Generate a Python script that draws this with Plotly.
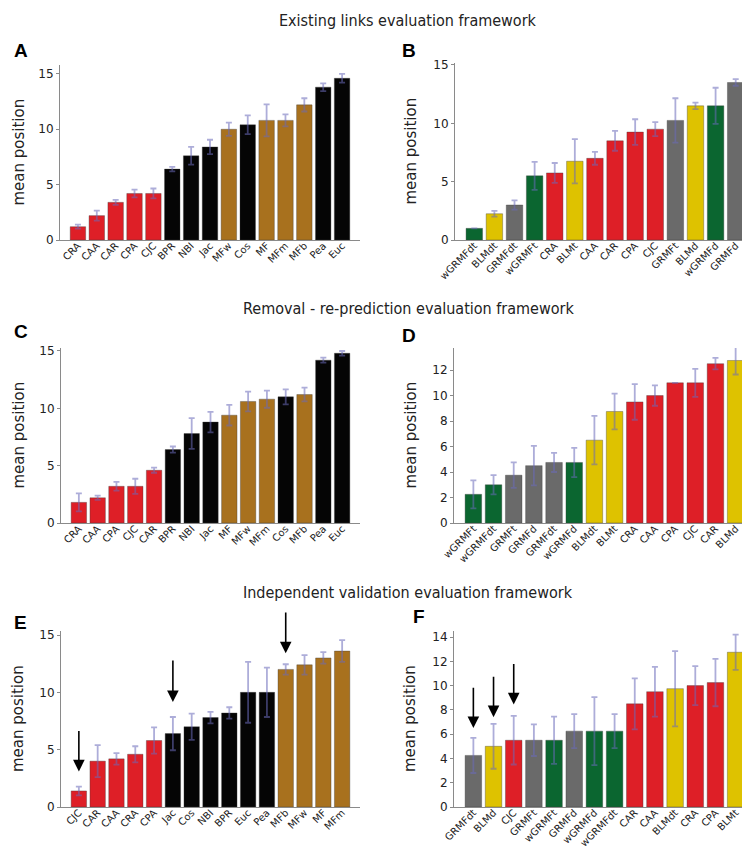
import plotly.graph_objects as go

# ---------------- data ----------------
a_names = ["CRA", "CAA", "CAR", "CPA", "CJC", "BPR", "NBI", "Jac", "MFw", "Cos", "MF", "MFm", "MFb", "Pea", "Euc"]
a_vals = [1.2, 2.2, 3.4, 4.2, 4.2, 6.4, 7.6, 8.4, 10.0, 10.4, 10.8, 10.8, 12.2, 13.8, 14.6]
a_err = [0.18, 0.45, 0.22, 0.35, 0.45, 0.2, 0.8, 0.65, 0.6, 0.85, 1.45, 0.55, 0.6, 0.35, 0.4]
a_grp = ["r", "r", "r", "r", "r", "k", "k", "k", "b", "k", "b", "b", "b", "k", "k"]

b_names = ["wGRMFdt", "BLMdt", "GRMFdt", "wGRMFt", "CRA", "BLMt", "CAA", "CAR", "CPA", "CJC", "GRMFt", "BLMd", "wGRMFd", "GRMFd"]
b_vals = [1.0, 2.25, 3.0, 5.5, 5.75, 6.75, 7.0, 8.5, 9.25, 9.5, 10.25, 11.5, 11.5, 13.5]
b_err = [0.0, 0.25, 0.4, 1.2, 0.85, 1.9, 0.55, 0.85, 1.1, 0.6, 1.9, 0.28, 1.55, 0.28]
b_grp = ["g", "y", "s", "g", "r", "y", "r", "r", "r", "r", "s", "y", "g", "s"]

c_names = ["CRA", "CAA", "CPA", "CJC", "CAR", "BPR", "NBI", "Jac", "MF", "MFw", "MFm", "Cos", "MFb", "Pea", "Euc"]
c_vals = [1.8, 2.2, 3.2, 3.2, 4.6, 6.4, 7.8, 8.8, 9.4, 10.6, 10.8, 11.0, 11.2, 14.2, 14.8]
c_err = [0.78, 0.18, 0.38, 0.66, 0.22, 0.27, 1.34, 0.89, 0.9, 0.86, 0.75, 0.66, 0.6, 0.22, 0.2]
c_grp = ["r", "r", "r", "r", "r", "k", "k", "k", "b", "b", "b", "k", "b", "k", "k"]

d_names = ["wGRMFt", "wGRMFdt", "GRMFt", "GRMFd", "GRMFdt", "wGRMFd", "BLMdt", "BLMt", "CRA", "CAA", "CPA", "CJC", "CAR", "BLMd"]
d_vals = [2.25, 3.0, 3.75, 4.5, 4.75, 4.75, 6.5, 8.75, 9.5, 10.0, 11.0, 11.0, 12.5, 12.75]
d_err = [1.1, 0.75, 1.0, 1.55, 0.75, 1.15, 1.9, 1.4, 1.4, 0.8, 0.0, 1.1, 0.45, 1.1]
d_grp = ["g", "g", "s", "s", "s", "g", "y", "y", "r", "r", "r", "r", "r", "y"]

e_names = ["CJC", "CAR", "CAA", "CRA", "CPA", "Jac", "Cos", "NBI", "BPR", "Euc", "Pea", "MFb", "MFw", "MF", "MFm"]
e_vals = [1.4, 4.0, 4.2, 4.6, 5.8, 6.4, 7.0, 7.8, 8.2, 10.0, 10.0, 12.0, 12.4, 13.0, 13.6]
e_err = [0.38, 1.4, 0.5, 0.7, 1.15, 1.45, 1.15, 0.5, 0.5, 2.65, 2.15, 0.45, 0.85, 0.5, 0.95]
e_grp = ["r", "r", "r", "r", "r", "k", "k", "k", "k", "k", "k", "b", "b", "b", "b"]

f_names = ["GRMFdt", "BLMd", "CJC", "GRMFt", "wGRMFt", "GRMFd", "wGRMFd", "wGRMFdt", "CAR", "CAA", "BLMdt", "CRA", "CPA", "BLMt"]
f_vals = [4.25, 5.0, 5.5, 5.5, 5.5, 6.25, 6.25, 6.25, 8.5, 9.5, 9.75, 10.0, 10.25, 12.75]
f_err = [1.45, 1.85, 2.0, 1.3, 1.95, 1.4, 2.8, 1.4, 2.1, 2.05, 3.1, 1.6, 1.95, 1.45]
f_grp = ["s", "y", "r", "s", "g", "s", "g", "g", "r", "r", "y", "r", "r", "y"]

section_titles = ["Existing links evaluation framework",
                  "Removal - re-prediction evaluation framework",
                  "Independent validation evaluation framework"]
panel_letters = ["A", "B", "C", "D", "E", "F"]

# arrows (category, tail value, tip value)
e_arrows = [("CJC", 6.75, 3.1), ("Jac", 12.9, 9.15), ("MFb", 17.1, 13.4)]
f_arrows = [("GRMFdt", 9.95, 6.5), ("BLMd", 10.85, 7.4), ("CJC", 11.9, 8.45)]

# ---------------- style ----------------
COL = {"r": "#DE1F27", "k": "#050505", "b": "#A8711E", "y": "#DEC200", "g": "#0B6630", "s": "#6A6A6A"}
W, H = 750, 850
FONT = "DejaVu Sans"

panels = [
    # names, vals, err, grp, x px range, y px (bottom, top), y max, dtick
    (a_names, a_vals, a_err, a_grp, (52, 352), (232, 57), 15.8, 5),
    (b_names, b_vals, b_err, b_grp, (447, 747), (232, 55), 15.17, 5),
    (c_names, c_vals, c_err, c_grp, (53, 352), (515, 340), 15.26, 5),
    (d_names, d_vals, d_err, d_grp, (446, 747), (515, 340), 13.73, 2),
    (e_names, e_vals, e_err, e_grp, (53, 352), (799, 623), 15.35, 5),
    (f_names, f_vals, f_err, f_grp, (446, 747), (799, 623), 14.5, 2),
]

fig = go.Figure()
layout = {}
for i, (names, vals, err, grp, xpx, ypx, ymax, dtick) in enumerate(panels):
    k = "" if i == 0 else str(i + 1)
    n = len(names)
    fig.add_trace(go.Bar(
        x=names, y=vals,
        marker=dict(color=[COL[g] for g in grp], line=dict(color="rgba(60,60,60,0.6)", width=0.6)),
        error_y=dict(type="data", array=err, visible=True, color="rgba(105,105,185,0.55)",
                     thickness=1.8, width=3),
        xaxis="x" + k, yaxis="y" + k, showlegend=False, hoverinfo="x+y",
    ))
    pad = 0.95 if n == 15 else 0.96
    layout["xaxis" + k] = dict(
        domain=[xpx[0] / W, xpx[1] / W], anchor="y" + k, automargin=False,
        range=[-pad, n - 1 + pad], type="category",
        showline=True, linecolor="#8a8a8a", linewidth=1, ticks="",
        tickangle=-45, ticklabelstandoff=-5,
        tickfont=dict(family=FONT, size=10, color="#222"),
        showgrid=False, zeroline=False, fixedrange=True,
    )
    layout["yaxis" + k] = dict(
        domain=[1 - ypx[0] / H, 1 - ypx[1] / H], anchor="x" + k, automargin=False,
        range=[0, ymax], dtick=dtick, tick0=0,
        showline=True, linecolor="#8a8a8a", linewidth=1, ticks="outside",
        ticklen=3, tickcolor="#8a8a8a",
        tickfont=dict(family=FONT, size=12, color="#222"),
        showgrid=False, zeroline=False, fixedrange=True,
    )

annotations = []
# section titles
for t, ypx in zip(section_titles, [12, 300, 584]):
    annotations.append(dict(text=t, x=400 / W, y=1 - ypx / H, xref="paper", yref="paper",
                            xanchor="center", yanchor="middle", showarrow=False,
                            font=dict(family="DejaVu Sans Condensed, DejaVu Sans", size=16, color="#222")))
# panel letters
letter_pos = [(13, 42), (401, 42), (13, 323), (401, 327), (12, 614), (411, 608)]
for L, (px, py) in zip(panel_letters, letter_pos):
    annotations.append(dict(text="<b>%s</b>" % L, x=px / W, y=1 - py / H, xref="paper", yref="paper",
                            xanchor="center", yanchor="middle", showarrow=False,
                            font=dict(family="Liberation Sans, Arial", size=19, color="#000")))
# y-axis titles
for i, p in enumerate(panels):
    ypx = p[5]
    px = 10 if i % 2 == 0 else 402
    annotations.append(dict(text="mean position", x=px / W, y=1 - (ypx[0] + ypx[1]) / 2 / H,
                            xref="paper", yref="paper", xanchor="center", yanchor="middle",
                            textangle=-90, showarrow=False,
                            font=dict(family=FONT, size=15, color="#222")))
# arrows
for arrows, k in [(e_arrows, "5"), (f_arrows, "6")]:
    for cat, tail, tip in arrows:
        annotations.append(dict(x=cat, y=tip, ax=cat, ay=tail, xref="x" + k, yref="y" + k,
                                axref="x" + k, ayref="y" + k, text="", showarrow=True,
                                arrowhead=2, arrowsize=1.45, arrowwidth=1.6, arrowcolor="#000"))

fig.update_layout(
    width=W, height=H, margin=dict(l=0, r=0, t=0, b=0, autoexpand=False),
    paper_bgcolor="white", plot_bgcolor="white", bargap=0.18,
    annotations=annotations, **layout,
)
fig.write_html("out.html")
